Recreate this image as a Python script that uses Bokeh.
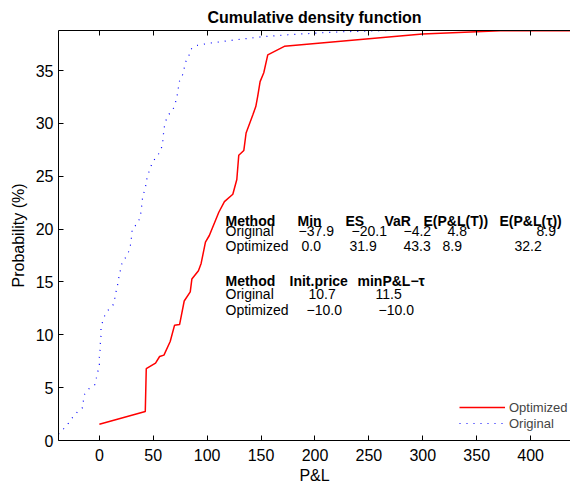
from bokeh.plotting import figure
from bokeh.models import LinearAxis, FixedTicker, Range1d, ColumnDataSource, Legend, LegendItem
from bokeh.core.properties import value
from bokeh.embed import file_html
from bokeh.resources import INLINE

# ---- data ----
opt_x = [0, 42.6, 43.5, 52.1, 55.9, 59.9, 65.7, 69.7, 74.4, 78.7, 84.3, 85.8, 91.9, 94.4, 98.4,
         102.0, 110.8, 116.0, 123.8, 127.5, 129.3, 134.0, 136.1, 142.3, 145.1, 146.9, 149.1,
         152.5, 156.2, 171.6, 299.7, 372.0, 437.0]
opt_y = [1.54, 2.74, 6.8, 7.33, 7.95, 8.08, 9.37, 10.9, 10.97, 13.2, 14.06, 15.28, 16.07, 16.76,
         18.77, 19.4, 21.6, 22.6, 23.3, 24.7, 27.0, 27.45, 29.1, 30.8, 31.6, 32.6, 33.96, 34.8,
         36.5, 37.3, 38.46, 38.77, 38.77]

orig_x = [-37.9, -33, -28.7, -24.7, -20.4, -15.7, -14.8, -13.6, -9.6, -4.0, -2.8, -1.2, 0.0, 0.0,
          0.6, 0.9, 1.5, 1.5, 3.1, 5.3, 9.0, 13.3, 14.5, 15.7, 17.3, 18.2, 19.7, 21.3, 25.0, 27.8,
          29.3, 29.9, 30.6, 35.2, 37.7, 38.9, 39.5, 40.4, 42.6, 43.5, 44.8, 47.2, 49.4, 53.7, 57.1,
          58.6, 59.3, 59.9, 61.4, 63.9, 68.2, 70.4, 71.9, 73.1, 73.8, 76.9, 78.4, 79.9, 83.0, 84.6,
          89.2, 102, 125, 150, 175, 200, 225, 250, 270, 437]
orig_y = [0.6, 1.13, 1.64, 2.2, 2.7, 3.1, 3.77, 4.4, 4.9, 5.3, 5.9, 6.6, 7.2, 7.9, 8.55, 9.2, 9.9,
          10.6, 11.3, 11.9, 12.45, 12.9, 13.55, 14.2, 14.9, 15.5, 16.2, 16.9, 17.4, 18.0, 18.7,
          19.4, 20.07, 20.5, 21.1, 21.8, 22.5, 23.2, 23.8, 24.5, 25.1, 25.75, 26.4, 26.9, 27.5,
          28.1, 28.8, 29.5, 30.2, 30.8, 31.3, 31.9, 32.5, 33.2, 33.9, 34.5, 35.1, 35.8, 36.4,
          37.0, 37.36, 37.6, 37.9, 38.2, 38.4, 38.55, 38.68, 38.75, 38.8, 38.8]

x_ticks = [0, 50, 100, 150, 200, 250, 300, 350, 400]
y_ticks = [0, 5, 10, 15, 20, 25, 30, 35]

# table 1
t1_header = ["Method", "Min", "ES", "VaR", "E(P&L(T))", "E(P&L(\u03c4))"]
t1_orig = ["Original", "\u221237.9", "\u221220.1", "\u22124.2", "4.8", "8.9"]
t1_opt = ["Optimized", "0.0", "31.9", "43.3", "8.9", "32.2"]
# table 2
t2_header = ["Method", "Init.price", "minP&L\u2212\u03c4"]
t2_orig = ["Original", "10.7", "11.5"]
t2_opt = ["Optimized", "\u221210.0", "\u221210.0"]

# ---- layout (pixel positions of text cells in the frame) ----
FR_L, FR_R, FR_T, FR_B = 58, 570, 30, 441
XMIN, XMAX, YMIN, YMAX = -37.9, 437.0, 0.0, 38.8

def px2x(px):
    return XMIN + (px - FR_L) * (XMAX - XMIN) / (FR_R - FR_L)

def py2y(py):
    return YMIN + (FR_B - py) * (YMAX - YMIN) / (FR_B - FR_T)

t1_hx = [225, 297, 345, 384, 423, 499]
t1_ox = [225, 298, 351, 403, 447, 536]
t1_px = [225, 301, 349, 403, 442, 514]
t2_hx = [225, 289, 357]
t2_ox = [225, 308, 375]
t2_px = [225, 306, 378]
rows_base = {"h1": 220.5, "o1": 230.8, "p1": 246.5, "h2": 281.5, "o2": 294.3, "p2": 310.0}

FONT = "Liberation Sans"

p = figure(width=570, height=486, output_backend="svg", toolbar_location=None,
           x_range=Range1d(XMIN, XMAX), y_range=Range1d(YMIN, YMAX),
           min_border_left=FR_L, min_border_right=0, min_border_top=FR_T,
           min_border_bottom=486 - FR_B, x_axis_label="P&L", y_axis_label="Probability (%)")
p.outline_line_color = None
p.xgrid.visible = False
p.ygrid.visible = False
p.background_fill_color = "white"
p.border_fill_color = "white"

p.title.text = "Cumulative density function"
p.title.align = "center"
p.title.text_font = FONT
p.title.text_font_size = "16px"
p.title.text_font_style = "bold"
p.title.text_color = "black"
p.title.text_line_height = 0.6
p.title.standoff = 10

for ax, ticks in ((p.xaxis[0], x_ticks), (p.yaxis[0], y_ticks)):
    ax.ticker = FixedTicker(ticks=ticks)
    ax.minor_tick_line_color = None
    ax.major_tick_in = 5
    ax.major_tick_out = 0
    ax.axis_line_color = "black"
    ax.major_tick_line_color = "black"
    ax.major_label_text_font = FONT
    ax.major_label_text_font_size = "16px"
    ax.major_label_text_color = "black"
    ax.axis_label_text_font = FONT
    ax.axis_label_text_font_size = "16px"
    ax.axis_label_text_font_style = "normal"
    ax.axis_label_text_color = "black"
p.xaxis[0].major_label_standoff = 8
p.xaxis[0].axis_label_standoff = 3
p.yaxis[0].major_label_standoff = 5
p.yaxis[0].axis_label_standoff = 6

top = LinearAxis(ticker=FixedTicker(ticks=x_ticks))
top.minor_tick_line_color = None
top.major_tick_in = 5
top.major_tick_out = 0
top.major_label_text_font_size = "1px"
top.major_label_text_color = None
top.major_label_standoff = 0
top.axis_line_color = "black"
p.add_layout(top, "above")

r_opt = p.line(opt_x, opt_y, line_color="#ff0000", line_width=1.5)
r_orig = p.line(orig_x, orig_y, line_color="#0000ff", line_width=1.2, line_dash="1 6")

legend = Legend(items=[LegendItem(label="Optimized", renderers=[r_opt]),
                       LegendItem(label="Original", renderers=[r_orig])],
                location=(401, 9), border_line_color=None, background_fill_alpha=0,
                padding=0, margin=0, spacing=0, glyph_width=46, glyph_height=16,
                label_height=16, label_standoff=4, label_text_font=FONT,
                label_text_font_size="13px")
p.add_layout(legend)

def add_row(labels, xs, base, bold):
    src = ColumnDataSource(dict(x=[px2x(v) for v in xs], y=[py2y(base)] * len(xs), t=labels))
    p.text(x="x", y="y", text="t", source=src, text_font=value(FONT),
           text_font_size="14px", text_font_style="bold" if bold else "normal",
           text_align="left", text_baseline="alphabetic", text_color="black")

add_row(t1_header, t1_hx, rows_base["h1"], True)
add_row(t1_orig, t1_ox, rows_base["o1"], False)
add_row(t1_opt, t1_px, rows_base["p1"], False)
add_row(t2_header, t2_hx, rows_base["h2"], True)
add_row(t2_orig, t2_ox, rows_base["o2"], False)
add_row(t2_opt, t2_px, rows_base["p2"], False)

open("out.html", "w").write(file_html(p, INLINE))
